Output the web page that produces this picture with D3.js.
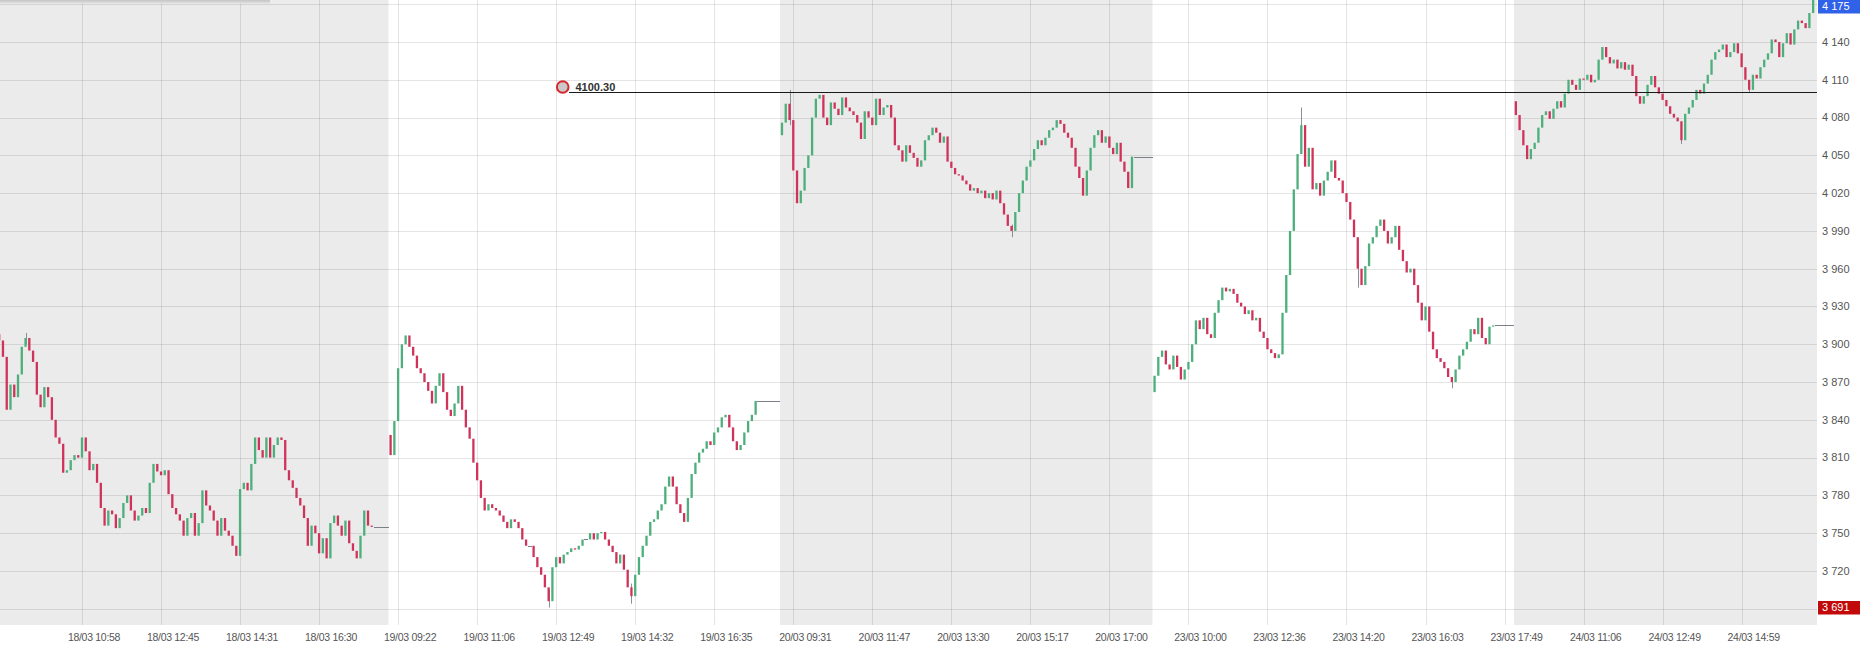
<!DOCTYPE html>
<html><head><meta charset="utf-8">
<script src="https://cdn.jsdelivr.net/npm/d3@7"></script>
<style>html,body{margin:0;padding:0;background:#fff;overflow:hidden}</style>
</head><body>
<svg id="chart" width="1860" height="645"></svg>
<script>
// ---------- DATA ----------
const dayLabels = ["18/03", "19/03", "20/03", "23/03", "24/03"];
const dayShaded = [true, false, true, false, true];
const dayOpens = [3908, 3828, 4066, 3862, 4093];

const closes18 = [3903,3890,3848,3868,3858,3876,3898,3905,3895,3886,
 3860,3850,3866,3858,3840,3826,3821,3798,3800,3808,
 3812,3810,3826,3815,3800,3805,3790,3770,3756,3768,
 3765,3754,3762,3774,3780,3768,3760,3764,3770,3766,
 3790,3805,3799,3796,3800,3781,3770,3765,3760,3748,
 3762,3766,3748,3758,3784,3772,3768,3760,3748,3762,
 3752,3748,3740,3732,3785,3790,3784,3805,3826,3816,
 3810,3826,3810,3820,3826,3824,3800,3792,3786,3778,
 3772,3762,3740,3756,3750,3734,3746,3730,3758,3764,
 3756,3748,3760,3742,3736,3730,3748,3768,3756,
 3755,3755,3755,3755,3755];

const closes19 = [3812,3839,3881,3900,3907,3898,3891,3881,3877,3870,
 3863,3853,3867,3877,3862,3848,3843,3853,3867,3848,
 3834,3825,3806,3792,3778,3768,3773,3770,3768,3764,
 3759,3754,3761,3759,3754,3745,3740,3740,3731,3723,
 3717,3707,3696,3723,3731,3726,3733,3735,3738,3737,
 3740,3745,3745,3750,3745,3750,3751,3745,3740,3735,
 3726,3733,3721,3707,3700,3717,3731,3740,3748,3759,
 3761,3768,3773,3787,3795,3787,3773,3766,3759,3778,
 3797,3806,3814,3817,3823,3820,3830,3834,3842,3844,
 3834,3823,3816,3820,3830,3839,3844,
 3855,3855,3855,3855,3855,3855,3855];

const closes20 = [4076,4091,4078,4038,4012,4022,4040,4050,4080,4095,
 4098,4080,4074,4092,4087,4082,4096,4088,4085,4082,
 4076,4063,4085,4080,4074,4095,4082,4088,4090,4080,
 4058,4054,4045,4058,4052,4048,4041,4046,4062,4066,
 4072,4068,4060,
 4065,4045,4040,4035,4034,4030,4027,4022,4024,4020,
 4022,4016,4020,4015,4022,4012,4003,3994,3990,4005,
 4020,4030,4041,4046,4055,4062,4058,4064,4070,4072,
 4078,4075,4068,4064,4056,4041,4032,4018,4038,4056,
 4066,4070,4060,4065,4056,4051,4060,4045,4037,4024,
 4049,4049,4049,4049,4049,4049];

const closes23 = [3875,3890,3895,3884,3880,3891,3882,3872,3880,3886,
 3900,3919,3912,3921,3908,3905,3925,3935,3945,3942,
 3944,3940,3933,3930,3924,3927,3919,3921,3910,3905,
 3896,3893,3889,3892,3925,3955,3990,4023,4051,4074,
 4041,4056,4023,4028,4018,4030,4037,4046,4032,4030,
 4020,4013,3999,3985,3960,3947,3962,3980,3985,3994,
 3999,3990,3980,3985,3994,3975,3966,3957,3960,3947,
 3933,3919,3930,3910,3896,3889,3886,3881,3874,3870,
 3880,3891,3896,3902,3912,3908,3921,3905,3900,3914,
 3915,3915,3915,3915,3915,3915];

const closes24 = [4082,4070,4058,4047,4055,4060,4072,4082,4085,4079,
 4087,4093,4088,4099,4110,4106,4102,4111,4110,4114,
 4108,4110,4126,4136,4128,4123,4126,4119,4124,4118,
 4122,4113,4097,4091,4097,4106,4113,4104,4099,4094,
 4089,4083,4080,4077,4062,4083,4088,4094,4102,4099,
 4107,4114,4126,4132,4134,4138,4128,4132,4139,4131,
 4120,4110,4102,4114,4111,4120,4126,4131,4142,4140,
 4128,4139,4147,4138,4150,4157,4155,4151,4163,4174];

// notable wick extremes: [candle index, high, low]
const wickExtremes = [[7,3909,3900],[146,3705,3691],[168,3710,3694],[210,4102,4074],[269,3995,3985],
 [346,4088,4070],[361,3966,3945],[386,3874,3865],[447,4077,4059],[465,4106,4100]];

const yTickValues = [3690,3720,3750,3780,3810,3840,3870,3900,3930,3960,3990,4020,4050,4080,4110,4140,4170];
const yLabelValues = [3720,3750,3780,3810,3840,3870,3900,3930,3960,3990,4020,4050,4080,4110,4140];
const xTickIndex = [22,43,64,85,106,127,148,169,190,211,232,253,274,295,316,337,358,379,400,421,442,463];
const xTickLabels = ["18/03 10:58","18/03 12:45","18/03 14:31","18/03 16:30","19/03 09:22","19/03 11:06",
 "19/03 12:49","19/03 14:32","19/03 16:35","20/03 09:31","20/03 11:47","20/03 13:30","20/03 15:17",
 "20/03 17:00","23/03 10:00","23/03 12:36","23/03 14:20","23/03 16:03","23/03 17:49","24/03 11:06",
 "24/03 12:49","24/03 14:59"];
const levelValue = 4100.30;
const lastPrice = 4175;
const minPrice = 3691;

// ---------- LAYOUT ----------
const W = 1860, H = 645, plotR = 1817, plotB = 625;
const svg = d3.select("#chart");
const x = d3.scaleLinear().domain([0, 483]).range([-0.8, 1816.9]);
const y = d3.scaleLinear().domain([3677.1, 4173.35]).range([plotB, 0]);
const fmt = d3.formatLocale({decimal: ".", thousands: " ", grouping: [3], currency: ["", ""]}).format(",d");
const FONT = "'Liberation Sans', Arial, sans-serif";

// build candles
const allDays = [closes18, closes19, closes20, closes23, closes24];
const candles = [], dayRanges = [];
let idx = 0;
allDays.forEach((arr, d) => {
  const start = idx;
  let prev = dayOpens[d];
  arr.forEach(c => { candles.push({i: idx, o: prev, c: c}); prev = c; idx++; });
  dayRanges.push([start, idx - 1]);
});

// background
svg.append("rect").attr("width", W).attr("height", H).attr("fill", "#fff");
const bg = svg.append("g");
dayRanges.forEach((r, d) => {
  const x0 = Math.max(0, x(r[0] - 0.5));
  const x1 = d === dayRanges.length - 1 ? plotR : x(r[1] + 0.5);
  bg.append("rect").attr("x", x0).attr("y", 0).attr("width", x1 - x0).attr("height", plotB)
    .attr("fill", dayShaded[d] ? "#ebebeb" : "#ffffff");
});

// gridlines
const grid = svg.append("g").attr("shape-rendering", "crispEdges");
grid.selectAll("line.h").data(yTickValues).join("line")
  .attr("x1", 0).attr("x2", plotR)
  .attr("y1", d => Math.round(y(d)) + 0.5).attr("y2", d => Math.round(y(d)) + 0.5)
  .attr("stroke", "rgba(0,0,0,0.1)");
grid.selectAll("line.v").data(xTickIndex).join("line")
  .attr("x1", d => Math.round(x(d)) + 0.5).attr("x2", d => Math.round(x(d)) + 0.5)
  .attr("y1", 0).attr("y2", plotB)
  .attr("stroke", "rgba(0,0,0,0.1)");

// wicks for notable extremes
const cg = svg.append("g");
cg.selectAll("line.w").data(wickExtremes).join("line")
  .attr("x1", d => Math.round(x(d[0])) + 0.5).attr("x2", d => Math.round(x(d[0])) + 0.5)
  .attr("y1", d => y(d[1])).attr("y2", d => y(d[2]))
  .attr("stroke", "#8c8f99").attr("stroke-width", 1);

// candles
const bw = 2.3;
cg.selectAll("rect").data(candles.filter(d => d.o !== d.c)).join("rect")
  .attr("x", d => x(d.i) - bw / 2).attr("width", bw)
  .attr("y", d => y(Math.max(d.o, d.c)))
  .attr("height", d => Math.max(1, Math.abs(y(d.o) - y(d.c))))
  .attr("fill", d => d.c > d.o ? "#4daf7c" : "#d0335a");
cg.selectAll("line.f").data(candles.filter(d => d.o === d.c)).join("line")
  .attr("x1", d => x(d.i) - 2).attr("x2", d => x(d.i) + 2)
  .attr("y1", d => Math.round(y(d.c)) + 0.5).attr("y2", d => Math.round(y(d.c)) + 0.5)
  .attr("stroke", "#7a7f88").attr("stroke-width", 1).attr("shape-rendering", "crispEdges");

// level line
const ly = Math.round(y(levelValue)) + 0.5;
svg.append("line").attr("x1", 569).attr("x2", plotR).attr("y1", ly).attr("y2", ly)
  .attr("stroke", "#1a1a1a").attr("stroke-width", 1.2);
svg.append("circle").attr("cx", 562.7).attr("cy", ly - 5.5).attr("r", 5.8)
  .attr("fill", "#c9c9c9").attr("stroke", "#d8262c").attr("stroke-width", 2);
svg.append("text").attr("x", 575.5).attr("y", ly - 2).text(levelValue.toFixed(2))
  .attr("font-family", FONT).attr("font-size", 11).attr("font-weight", "bold").attr("fill", "#333");

// right axis area
svg.append("rect").attr("x", plotR).attr("y", 0).attr("width", W - plotR).attr("height", H).attr("fill", "#fff");
svg.append("rect").attr("x", 0).attr("y", plotB).attr("width", W).attr("height", H - plotB).attr("fill", "#fff");
svg.append("g").selectAll("text").data(yLabelValues).join("text")
  .attr("x", 1822).attr("y", d => y(d)).attr("dy", "0.35em")
  .attr("font-family", FONT).attr("font-size", 11).attr("fill", "#555")
  .text(d => fmt(d));

// price boxes (the top one is kept just inside the chart edge)
function priceBox(v, color) {
  const cy = Math.max(y(v), 6.5);
  svg.append("rect").attr("x", 1818).attr("y", cy - 6.5).attr("width", W - 1818).attr("height", 13.5).attr("fill", color);
  svg.append("text").attr("x", 1822).attr("y", cy).attr("dy", "0.35em")
    .attr("font-family", FONT).attr("font-size", 11).attr("fill", "#fff").text(fmt(v));
}
priceBox(lastPrice, "#2f62e8");
priceBox(minPrice, "#c20a0a");

// x labels
svg.append("g").selectAll("text").data(xTickIndex).join("text")
  .attr("x", d => x(d) + 12).attr("y", 641).attr("text-anchor", "middle")
  .attr("font-family", FONT).attr("font-size", 10.5).attr("fill", "#555")
  .attr("letter-spacing", "-0.3px")
  .text((d, i) => xTickLabels[i]);

// top-left shadow of an overlapping panel
const defs = svg.append("defs");
const grad = defs.append("linearGradient").attr("id", "sh").attr("x1", 0).attr("y1", 0).attr("x2", 0).attr("y2", 1);
grad.append("stop").attr("offset", 0).attr("stop-color", "#c4c4c4");
grad.append("stop").attr("offset", 1).attr("stop-color", "#e2e2e2");
svg.append("rect").attr("x", 0).attr("y", 0).attr("width", 270).attr("height", 3.5).attr("fill", "url(#sh)");
</script>
</body></html>
